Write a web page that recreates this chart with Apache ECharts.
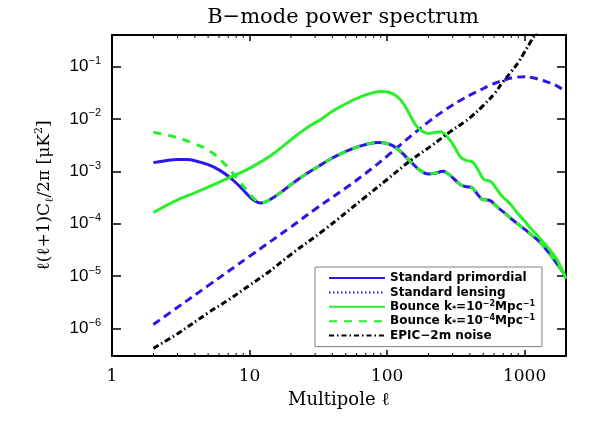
<!DOCTYPE html>
<html>
<head>
<meta charset="utf-8">
<script src="https://cdn.jsdelivr.net/npm/echarts@6/dist/echarts.min.js"></script>
<style>
  html, body { margin: 0; padding: 0; background: #fff; }
  #chart { width: 599px; height: 428px; }
</style>
</head>
<body>
<div id="chart"></div>
<script>
// l(l+1)C_l/2pi in uK^2 against multipole l
const primordialEll = [2, 2.5, 3, 3.5, 4, 5, 6, 7, 8, 9, 10, 11, 12, 13, 15, 18, 22, 27, 33, 40, 46, 55, 64, 75, 87, 98, 110, 125, 148, 175, 200, 225, 255, 280, 310, 345, 380, 410, 450, 495, 530, 565, 610, 670, 740, 815, 920, 1050, 1180, 1310, 1470, 1640, 1800, 2000];
const primordialCl = [1.47e-3, 1.62e-3, 1.69e-3, 1.68e-3, 1.6e-3, 1.34e-3, 1.07e-3, 8.1e-4, 6.0e-4, 4.4e-4, 3.3e-4, 2.7e-4, 2.5e-4, 2.6e-4, 3.2e-4, 4.5e-4, 6.7e-4, 9.6e-4, 1.33e-3, 1.8e-3, 2.16e-3, 2.65e-3, 3.05e-3, 3.4e-3, 3.55e-3, 3.45e-3, 3.1e-3, 2.4e-3, 1.55e-3, 1.03e-3, 8.9e-4, 9.3e-4, 1.0e-3, 8.8e-4, 7.0e-4, 5.5e-4, 5.1e-4, 5.0e-4, 3.8e-4, 2.9e-4, 2.85e-4, 2.75e-4, 2.3e-4, 1.85e-4, 1.5e-4, 1.2e-4, 9.3e-5, 7.1e-5, 5.5e-5, 4.3e-5, 3.0e-5, 2.05e-5, 1.45e-5, 1.0e-5];

const lensingEll = [2, 3, 5, 10, 20, 30, 50, 70, 100, 150, 200, 250, 300, 350, 400, 480, 560, 650, 750, 850, 1000, 1150, 1300, 1450, 1650, 1850, 2000];
const lensingCl = [1.2e-6, 2.55e-6, 6.6e-6, 2.4e-5, 8.7e-5, 1.9e-4, 4.8e-4, 9.2e-4, 1.95e-3, 4.8e-3, 8.8e-3, 1.35e-2, 1.85e-2, 2.35e-2, 2.85e-2, 3.6e-2, 4.4e-2, 5.1e-2, 5.8e-2, 6.2e-2, 6.4e-2, 6.1e-2, 5.6e-2, 5.1e-2, 4.5e-2, 3.8e-2, 3.3e-2];

const bounce2Ell = [2, 3, 4, 5, 7, 9.5, 12, 15, 18, 22, 27, 33, 40, 46, 55, 64, 75, 90, 104, 118, 130, 140, 152, 166, 185, 201, 222, 245, 265, 290, 320, 343, 380, 417, 460, 506, 566, 620, 689, 750, 820, 887, 1000, 1107, 1240, 1384, 1550, 1734, 2000];
const bounce2Cl = [1.64e-4, 2.85e-4, 3.9e-4, 5.0e-4, 7.4e-4, 1.07e-3, 1.5e-3, 2.2e-3, 3.2e-3, 4.9e-3, 7.2e-3, 9.8e-3, 1.4e-2, 1.73e-2, 2.2e-2, 2.65e-2, 3.05e-2, 3.33e-2, 3.2e-2, 2.7e-2, 2.05e-2, 1.5e-2, 1.0e-2, 7.0e-3, 5.6e-3, 5.3e-3, 5.5e-3, 5.7e-3, 5.0e-3, 3.8e-3, 2.5e-3, 1.85e-3, 1.6e-3, 1.52e-3, 1.05e-3, 7.0e-4, 6.4e-4, 4.8e-4, 3.3e-4, 2.7e-4, 2.1e-4, 1.6e-4, 1.13e-4, 8.2e-5, 6.0e-5, 4.3e-5, 3.0e-5, 2.0e-5, 9.0e-6];

const bounce4Ell = [2, 2.8, 3.9, 5.2, 6.5, 8.1, 9.5, 11, 12, 13, 15, 18, 22, 27, 33, 40, 46, 55, 64, 75, 87, 98, 110, 125, 148, 175, 200, 225, 255, 280, 310, 345, 380, 410, 450, 495, 530, 565, 610, 670, 740, 815, 920, 1050, 1180, 1310, 1470, 1640, 1800, 2000];
const bounce4Cl = [5.6e-3, 4.6e-3, 3.45e-3, 2.39e-3, 1.44e-3, 7.4e-4, 4.4e-4, 2.86e-4, 2.5e-4, 2.6e-4, 3.2e-4, 4.5e-4, 6.7e-4, 9.6e-4, 1.33e-3, 1.8e-3, 2.16e-3, 2.65e-3, 3.05e-3, 3.4e-3, 3.55e-3, 3.45e-3, 3.1e-3, 2.4e-3, 1.55e-3, 1.03e-3, 8.9e-4, 9.3e-4, 1.0e-3, 8.8e-4, 7.0e-4, 5.5e-4, 5.1e-4, 5.0e-4, 3.8e-4, 2.9e-4, 2.85e-4, 2.75e-4, 2.3e-4, 1.85e-4, 1.5e-4, 1.2e-4, 9.3e-5, 7.1e-5, 5.5e-5, 4.3e-5, 3.0e-5, 2.05e-5, 1.45e-5, 1.0e-5];

const noiseEll = [2, 3, 5, 7, 10, 13.4, 20, 35, 68, 100, 150, 207, 290, 362, 400, 500, 600, 700, 800, 900, 1000, 1100, 1200, 1300];
const noiseCl = [4.2e-7, 8.0e-7, 2.0e-6, 3.5e-6, 6.7e-6, 1.14e-5, 2.6e-5, 7.7e-5, 3.1e-4, 7.0e-4, 1.65e-3, 3.0e-3, 5.8e-3, 8.6e-3, 1.05e-2, 1.8e-2, 3.0e-2, 5.2e-2, 8.0e-2, 0.12, 0.19, 0.29, 0.42, 0.62];

const minorTicks = [2, 3, 4, 5, 6, 7, 8, 9, 20, 30, 40, 50, 60, 70, 80, 90, 200, 300, 400, 500, 600, 700, 800, 900];

const X_MIN = 1, X_MAX = 2000, Y_MIN = 3e-7, Y_MAX = 0.4;
const BLUE = '#2b17e6', GREEN = '#2aef2a', BLACK = '#000';
const SERIF = '"DejaVu Serif", serif';
const SANS = '"Liberation Sans Narrow", "Liberation Sans", sans-serif';

const names = ['Standard primordial', 'Standard lensing', 'Bounce k*=10^-2 Mpc^-1', 'Bounce k*=10^-4 Mpc^-1', 'EPIC-2m noise'];
const legendText = {
  'Standard primordial': '{t|Standard primordial}',
  'Standard lensing': '{t|Standard lensing}',
  'Bounce k*=10^-2 Mpc^-1': '{t|Bounce k}{sub|*}{t|=10}{sup|−2}{t|Mpc}{sup|−1}',
  'Bounce k*=10^-4 Mpc^-1': '{t|Bounce k}{sub|*}{t|=10}{sup|−4}{t|Mpc}{sup|−1}',
  'EPIC-2m noise': '{t|EPIC−2m noise}',
};

function pairs(xs, ys) { return xs.map((x, i) => [x, ys[i]]); }
function isDecade(v) { const e = Math.log10(v); return Math.abs(e - Math.round(e)) < 1e-6; }

const chart = echarts.init(document.getElementById('chart'), null, { renderer: 'canvas' });

const frame = { show: true, lineStyle: { color: BLACK, width: 2 } };

function lineSeries(name, ell, cl, color, type, z) {
  return {
    name, type: 'line', data: pairs(ell, cl),
    xAxisIndex: 0, yAxisIndex: 0,
    smooth: 0.4, symbol: 'none', z,
    lineStyle: { color, width: 3, type },
    itemStyle: { color },
  };
}

chart.setOption({
  animation: false,
  backgroundColor: '#fff',
  title: {
    text: 'B−mode power spectrum',
    left: 338, top: 2, textAlign: 'center',
    textStyle: { fontFamily: SERIF, fontSize: 21, fontWeight: 'normal', color: BLACK },
  },
  grid: { left: 112, right: 33, top: 35, bottom: 72 },
  legend: {
    data: [
      { name: names[0] },
      { name: names[1], lineStyle: { type: [1.5, 2.5] } },
      { name: names[2] },
      { name: names[3], lineStyle: { type: [8, 7] } },
      { name: names[4], lineStyle: { type: [5, 3, 1.5, 3] } },
    ],
    orient: 'vertical',
    left: 315, top: 267,
    padding: [4, 7, 4, 13],
    itemWidth: 56, itemHeight: 14, itemGap: 0.4,
    backgroundColor: '#fff', borderColor: '#808080', borderWidth: 1,
    selectedMode: false,
    itemStyle: { opacity: 0 },
    lineStyle: { width: 2 },
    formatter: (n) => legendText[n],
    textStyle: {
      color: BLACK, fontFamily: 'DejaVu Sans', fontWeight: 'bold', fontSize: 12, lineHeight: 14,
      rich: {
        t: { fontFamily: 'DejaVu Sans', fontWeight: 'bold', fontSize: 12, lineHeight: 14, color: BLACK },
        sup: { fontFamily: 'DejaVu Sans', fontWeight: 'bold', fontSize: 8, lineHeight: 8, verticalAlign: 'top', color: BLACK },
        sub: { fontFamily: 'DejaVu Sans', fontWeight: 'bold', fontSize: 8, lineHeight: 8, verticalAlign: 'bottom', color: BLACK },
      },
    },
  },
  xAxis: [
    {
      type: 'log', min: X_MIN, max: X_MAX, position: 'bottom',
      name: 'Multipole ℓ', nameLocation: 'middle', nameGap: 35,
      nameTextStyle: { fontFamily: SERIF, fontSize: 18, color: BLACK },
      axisLine: frame,
      axisTick: { inside: true, length: 6, lineStyle: { color: BLACK, width: 1.5 } },
      axisLabel: {
        margin: 12, color: BLACK, fontFamily: SERIF, fontSize: 17,
        formatter: (v) => isDecade(v) ? String(Math.round(v)) : '',
      },
      splitLine: { show: false },
    },
    {
      type: 'log', min: X_MIN, max: X_MAX, position: 'top',
      axisLine: frame,
      axisTick: { inside: true, length: 6, lineStyle: { color: BLACK, width: 1.5 } },
      axisLabel: { show: false },
      splitLine: { show: false },
    },
  ],
  yAxis: [
    {
      type: 'log', min: Y_MIN, max: Y_MAX, position: 'left',
      name: '{n|ℓ(ℓ+1)C}{sub|ℓ}{n|/2π [μK}{sup|2}{n|]}',
      nameLocation: 'middle', nameGap: 56, nameRotate: 90,
      nameTextStyle: {
        color: BLACK, fontFamily: SERIF, fontSize: 17,
        rich: {
          n: { fontFamily: SERIF, fontSize: 17, lineHeight: 22, color: BLACK },
          sub: { fontFamily: SERIF, fontSize: 11, lineHeight: 11, verticalAlign: 'bottom', color: BLACK },
          sup: { fontFamily: SERIF, fontSize: 11, lineHeight: 11, verticalAlign: 'top', color: BLACK },
        },
      },
      axisLine: frame,
      axisTick: { inside: true, length: 9, lineStyle: { color: BLACK, width: 1.5 } },
      axisLabel: {
        margin: 11, color: BLACK,
        formatter: (v) => {
          if (!isDecade(v)) return '';
          const e = Math.round(Math.log10(v));
          return '{b|10}{e|' + (e < 0 ? '−' + (-e) : e) + '}';
        },
        rich: {
          b: { fontFamily: SANS, fontSize: 17, lineHeight: 22, color: BLACK },
          e: { fontFamily: SANS, fontSize: 11, lineHeight: 11, verticalAlign: 'top', color: BLACK },
        },
      },
      splitLine: { show: false },
    },
    {
      type: 'log', min: Y_MIN, max: Y_MAX, position: 'right',
      axisLine: frame,
      axisTick: { inside: true, length: 9, lineStyle: { color: BLACK, width: 1.5 } },
      axisLabel: { show: false },
      splitLine: { show: false },
    },
  ],
  series: [
    lineSeries(names[0], primordialEll, primordialCl, BLUE, 'solid', 2),
    lineSeries(names[1], lensingEll, lensingCl, BLUE, [8, 5], 3),
    lineSeries(names[2], bounce2Ell, bounce2Cl, GREEN, 'solid', 4),
    lineSeries(names[3], bounce4Ell, bounce4Cl, GREEN, [8, 7], 5),
    lineSeries(names[4], noiseEll, noiseCl, BLACK, [6, 3, 1.5, 3], 6),
    {
      // minor log ticks on the bottom and top frame
      type: 'custom', silent: true, xAxisIndex: 0, yAxisIndex: 0, z: 7,
      data: minorTicks.map((v) => [v, Y_MIN]),
      renderItem(params, api) {
        const cs = params.coordSys;
        const x = api.coord([api.value(0), Y_MIN])[0];
        const style = { stroke: BLACK, lineWidth: 1 };
        return {
          type: 'group',
          children: [
            { type: 'line', shape: { x1: x, y1: cs.y + cs.height, x2: x, y2: cs.y + cs.height - 3 }, style },
            { type: 'line', shape: { x1: x, y1: cs.y, x2: x, y2: cs.y + 3 }, style },
          ],
        };
      },
    },
  ],
});
</script>
</body>
</html>
